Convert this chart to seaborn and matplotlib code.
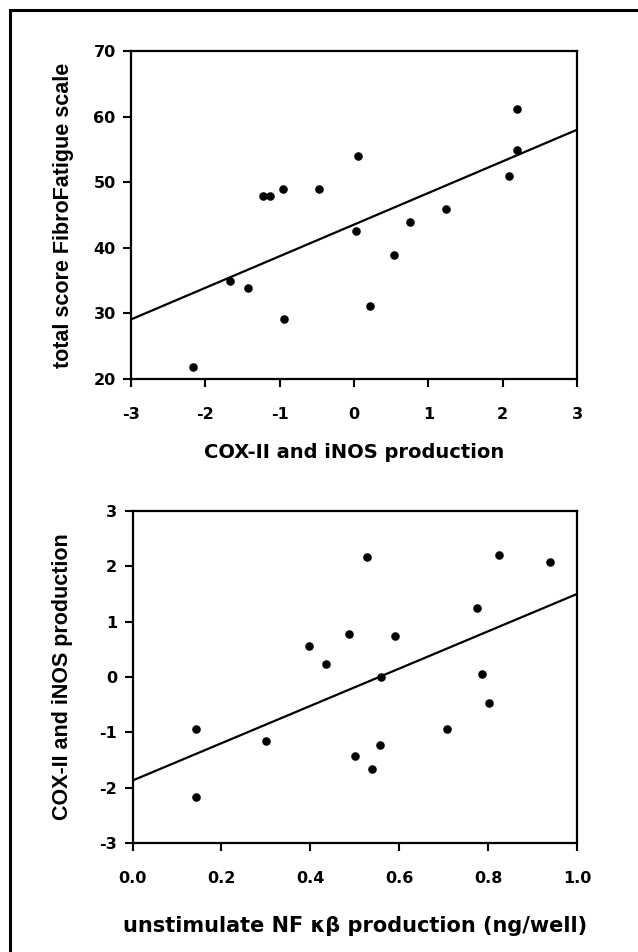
import numpy as np
import pandas as pd
import matplotlib
matplotlib.use("Agg")
import matplotlib.pyplot as plt
import seaborn as sns
from matplotlib.patches import Rectangle

# top panel: COX-II/iNOS vs FibroFatigue total score
cox_top = [2.19, 2.20, 2.08, 0.06, -1.23, -1.13, -0.95, -0.47, 0.03,
           0.76, 1.24, 0.54, -1.67, -1.43, -2.17, -0.94, 0.22]
fibro = [61.1, 54.9, 50.9, 54.0, 47.9, 47.9, 49.0, 49.0, 42.6,
         43.9, 45.9, 38.9, 34.9, 33.9, 21.8, 29.1, 31.2]

# bottom panel: NF kb vs COX-II/iNOS
nfkb = [0.528, 0.825, 0.939, 0.775, 0.488, 0.591, 0.397, 0.436, 0.558,
        0.787, 0.801, 0.142, 0.301, 0.707, 0.557, 0.500, 0.538, 0.142]
cox_bottom = [2.17, 2.20, 2.08, 1.25, 0.77, 0.75, 0.56, 0.23, 0.00,
              0.05, -0.47, -0.94, -1.15, -0.94, -1.22, -1.43, -1.66, -2.17]

top_df = pd.DataFrame({"cox": cox_top, "fibro": fibro})
bot_df = pd.DataFrame({"nfkb": nfkb, "cox": cox_bottom})

sns.set_style("ticks")
plt.rcParams["font.family"] = ["DejaVu Sans"]
plt.rcParams["font.weight"] = "bold"
plt.rcParams["axes.labelweight"] = "bold"
plt.rcParams["axes.unicode_minus"] = False
plt.rcParams["text.color"] = "black"
plt.rcParams["axes.labelcolor"] = "black"

fig = plt.figure(figsize=(6.38, 9.52), dpi=100)
ax1 = fig.add_axes([0.2053, 0.6019, 0.699, 0.3445])
ax2 = fig.add_axes([0.2077, 0.1145, 0.6967, 0.3487])

scatter_kws = {"s": 38, "color": "black", "alpha": 1, "linewidths": 0}
line_kws = {"color": "black", "lw": 1.6}

ax1.set_xlim(-3, 3)
ax1.set_ylim(20, 70)
sns.regplot(data=top_df, x="cox", y="fibro", ax=ax1, ci=None, truncate=False,
            scatter_kws=scatter_kws, line_kws=line_kws)
ax1.set_xlim(-3, 3)
ax1.set_ylim(20, 70)
ax1.set_xticks(range(-3, 4))
ax1.set_yticks(range(20, 71, 10))
ax1.set_xlabel("COX-II and iNOS production", fontsize=14, labelpad=15)
ax1.set_ylabel("total score FibroFatigue scale", fontsize=15.5, labelpad=14,
               family="Liberation Sans")

ax2.set_xlim(0, 1)
ax2.set_ylim(-3, 3)
sns.regplot(data=bot_df, x="nfkb", y="cox", ax=ax2, ci=None, truncate=False,
            scatter_kws=scatter_kws, line_kws=line_kws)
ax2.set_xlim(0, 1)
ax2.set_ylim(-3, 3)
ax2.set_xticks(np.arange(0, 1.01, 0.2))
ax2.set_xticklabels([f"{v:.1f}" for v in np.arange(0, 1.01, 0.2)])
ax2.set_yticks(range(-3, 4))
ax2.set_xlabel("unstimulate NF κβ production (ng/well)", fontsize=15, labelpad=22)
ax2.set_ylabel("COX-II and iNOS production", fontsize=15.5, labelpad=19,
               family="Liberation Sans")

for ax in (ax1, ax2):
    for sp in ax.spines.values():
        sp.set_linewidth(1.6)
        sp.set_color("black")
    ax.tick_params(axis="both", direction="out", length=6, width=1.5,
                   labelsize=11.5, colors="black")
    ax.tick_params(axis="x", pad=14)
    ax.tick_params(axis="y", pad=5)
    for lbl in ax.get_xticklabels() + ax.get_yticklabels():
        lbl.set_fontweight("bold")

# outer frame (only left/top edges fall inside the image)
fig.add_artist(Rectangle((9.5 / 638, -0.05), 1.1, 1 - 10 / 952 + 0.05,
                         transform=fig.transFigure, fill=False,
                         edgecolor="black", linewidth=2.2, clip_on=False))

fig.savefig("out.png", dpi=100)
